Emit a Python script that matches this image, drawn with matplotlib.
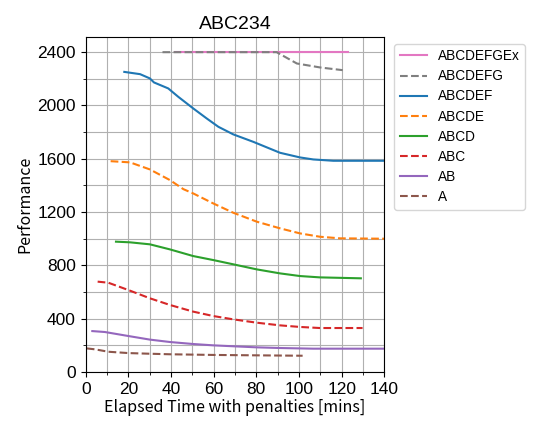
import matplotlib
matplotlib.use("Agg")
import matplotlib.pyplot as plt
from matplotlib.ticker import MultipleLocator

# ── データ───────────────────────────────────
t_abcdef = [18.1, 25.5, 30.1, 32, 38.7, 43.4, 50.4, 56.7, 62.2, 69.2, 78.6, 91.1, 100.5, 106.7, 116.1, 141]
v_abcdef = [2252, 2235, 2203, 2173, 2128, 2065, 1978, 1903, 1840, 1783, 1727, 1645, 1610, 1595, 1585, 1585]

t_abcde = [11.7, 20.8, 30.1, 39.5, 45.8, 50.4, 59.8, 69.2, 80.2, 91.1, 100.5, 109.8, 119.2, 141]
v_abcde = [1582, 1573, 1520, 1440, 1372, 1340, 1265, 1195, 1128, 1078, 1040, 1015, 1003, 1000]

t_abcd = [14.2, 20.8, 30.1, 39.5, 50.4, 59.8, 69.2, 80.2, 91.1, 100.5, 109.8, 129]
v_abcd = [978, 973, 958, 920, 870, 840, 808, 770, 740, 720, 710, 703]

t_abc = [5.6, 10.6, 20, 30.1, 39.5, 50.4, 59.8, 69.2, 80.2, 91.1, 100.5, 109.8, 129.8]
v_abc = [678, 670, 615, 553, 503, 453, 420, 395, 370, 350, 338, 330, 330]

t_ab = [3.1, 9, 20, 30.1, 39.5, 50.4, 59.8, 69.2, 80.2, 91.1, 106.7, 141]
v_ab = [307, 300, 270, 243, 225, 210, 200, 193, 185, 180, 175, 175]

t_a = [0.5, 4.4, 10.6, 20, 30.1, 39.5, 59.8, 80.2, 101.7]
v_a = [177, 170, 152, 142, 137, 133, 128, 125, 122]

t_abcdefgex = [42, 123]
v_abcdefgex = [2400, 2400]

t_abcdefg = [36, 89.5, 99, 110, 120.5]
v_abcdefg = [2400, 2400, 2315, 2285, 2265]

series = [
    ("ABCDEF", t_abcdef, v_abcdef, "C0", "-"),
    ("ABCDE", t_abcde, v_abcde, "C1", "--"),
    ("ABCD", t_abcd, v_abcd, "C2", "-"),
    ("ABC", t_abc, v_abc, "C3", "--"),
    ("AB", t_ab, v_ab, "C4", "-"),
    ("A", t_a, v_a, "C5", "--"),
    ("ABCDEFGEx", t_abcdefgex, v_abcdefgex, "C6", "-"),
    ("ABCDEFG", t_abcdefg, v_abcdefg, "C7", "--"),
]
legend_order = ["ABCDEFGEx", "ABCDEFG", "ABCDEF", "ABCDE", "ABCD", "ABC", "AB", "A"]

label_font = "Noto Sans CJK JP"
text_font = "Liberation Sans"

# ── 描画 ──────────────────────────────────────────
fig = plt.figure(figsize=(5.4, 4.32), dpi=100)
ax = fig.add_axes([0.1587, 0.1389, 0.553, 0.7755])

handles = {}
for name, t, v, c, ls in series:
    (h,) = ax.plot(t, v, color=c, linestyle=ls, linewidth=1.5, label=name)
    handles[name] = h

ax.set_xlim(0, 140)
ax.set_ylim(0, 2514)
ax.xaxis.set_major_locator(MultipleLocator(20))
ax.xaxis.set_minor_locator(MultipleLocator(10))
ax.yaxis.set_major_locator(MultipleLocator(400))
ax.yaxis.set_minor_locator(MultipleLocator(200))
ax.grid(which="both", color="#b0b0b0", linewidth=0.8)
ax.set_axisbelow(True)

for lab in ax.get_xticklabels() + ax.get_yticklabels():
    lab.set_fontfamily(text_font)
    lab.set_fontsize(12.5)

ax.set_title("ABC234", fontsize=14, family=text_font)
ax.set_xlabel("Elapsed Time with penalties [mins]", fontsize=11.5, family=label_font, labelpad=2)
ax.set_ylabel("Performance", fontsize=11.5, family=label_font, labelpad=3)

ax.legend([handles[n] for n in legend_order], legend_order,
          loc="upper left", bbox_to_anchor=(1.01, 1.0),
          labelspacing=0.45, prop={"family": text_font, "size": 9.8})

fig.savefig("out.png", dpi=100)
